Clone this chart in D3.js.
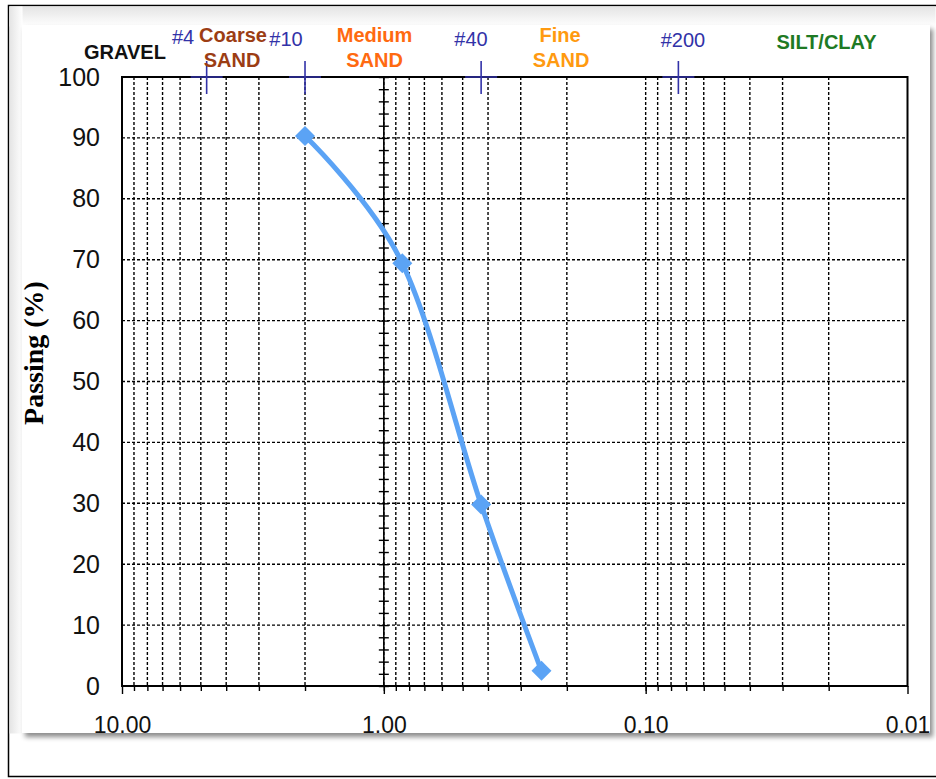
<!DOCTYPE html>
<html>
<head>
<meta charset="utf-8">
<script src="https://cdn.jsdelivr.net/npm/d3@7"></script>
<style>
  body { margin: 0; background: #fff; }
  svg { display: block; font-family: "Liberation Sans", Arial, sans-serif; }
</style>
</head>
<body>
<div id="chart"></div>
<script>
// grain size (mm) and percent passing
var sieveSizes = [2.0, 0.85, 0.425, 0.25];
var passing = [90.3, 69.4, 29.8, 2.5];

var xTickValues = [10, 1, 0.1, 0.01];
var xTickLabels = ["10.00", "1.00", "0.10", "0.01"];
var yTickValues = [0, 10, 20, 30, 40, 50, 60, 70, 80, 90, 100];

var sieveNames = ["#4", "#10", "#40", "#200"];
var sieveOpenings = [4.75, 2.0, 0.425, 0.075];

var zoneLabels = ["GRAVEL", "Coarse", "SAND", "Medium", "SAND", "Fine", "SAND", "SILT/CLAY"];

var width = 936, height = 779;
var margin = {top: 77, right: 28.5, bottom: 93, left: 122};
var plotW = width - margin.left - margin.right,
    plotH = height - margin.top - margin.bottom;

var svg = d3.select("#chart").append("svg")
    .attr("width", width)
    .attr("height", height);

var defs = svg.append("defs");
var shadow = defs.append("filter").attr("id", "shadow")
    .attr("x", "-5%").attr("y", "-5%").attr("width", "115%").attr("height", "115%");
shadow.append("feDropShadow")
    .attr("dx", 3).attr("dy", 4).attr("stdDeviation", 2.5)
    .attr("flood-color", "#000").attr("flood-opacity", 0.45);

var gTop = defs.append("linearGradient").attr("id", "gTop").attr("x1", 0).attr("y1", 0).attr("x2", 0).attr("y2", 1);
gTop.append("stop").attr("offset", "0%").attr("stop-color", "#e4e4e4");
gTop.append("stop").attr("offset", "100%").attr("stop-color", "#fff");
var gLeft = defs.append("linearGradient").attr("id", "gLeft").attr("x1", 0).attr("y1", 0).attr("x2", 1).attr("y2", 0);
gLeft.append("stop").attr("offset", "0%").attr("stop-color", "#e4e4e4");
gLeft.append("stop").attr("offset", "100%").attr("stop-color", "#fff");

defs.append("clipPath").attr("id", "panelClip")
  .append("rect").attr("x", 22).attr("y", 25).attr("width", 908).attr("height", 708);

// outer frame
svg.append("rect").attr("x", 8.5).attr("y", 5.5).attr("width", 940).attr("height", 771)
    .attr("fill", "#fff").attr("stroke", "#000").attr("stroke-width", 1.5);
svg.append("rect").attr("x", 9.5).attr("y", 6.5).attr("width", 926).attr("height", 20).attr("fill", "url(#gTop)");
svg.append("rect").attr("x", 9.5).attr("y", 6.5).attr("width", 13).attr("height", 727).attr("fill", "url(#gLeft)");

// panel
svg.append("rect").attr("x", 22).attr("y", 25).attr("width", 908).attr("height", 708)
    .attr("fill", "#fff").attr("filter", "url(#shadow)");

var root = svg.append("g").attr("clip-path", "url(#panelClip)");
var g = root.append("g").attr("transform", "translate(" + margin.left + "," + margin.top + ")");

var x = d3.scaleLog().domain([10, 0.01]).range([0, plotW]);
var y = d3.scaleLinear().domain([0, 100]).range([plotH, 0]);

// minor grid values 2..9 in each decade
var gridValues = [];
[1, 0.1, 0.01].forEach(function(dec) {
  for (var k = 9; k >= 1; k--) gridValues.push(+(dec * k).toPrecision(3));
});
gridValues = gridValues.filter(function(v) { return v < 10 && v > 0.01; });

// vertical dashed grid
g.append("g").selectAll("line")
    .data(gridValues)
    .enter().append("line")
    .attr("x1", function(d) { return x(d); })
    .attr("x2", function(d) { return x(d); })
    .attr("y1", 0).attr("y2", plotH)
    .attr("stroke", "#000").attr("stroke-width", 1.4).attr("stroke-dasharray", "3,2");

// horizontal dashed grid
g.append("g").selectAll("line")
    .data(yTickValues.slice(1, -1))
    .enter().append("line")
    .attr("x1", 0).attr("x2", plotW)
    .attr("y1", function(d) { return y(d); })
    .attr("y2", function(d) { return y(d); })
    .attr("stroke", "#000").attr("stroke-width", 1.4).attr("stroke-dasharray", "3,2");

// y axis crossing at 1.00 with minor ticks
var yCross = g.append("g")
    .attr("transform", "translate(" + (x(1) + 5) + ",0)")
    .call(d3.axisLeft(y).tickValues(d3.range(0, 101, 2)).tickSize(10).tickFormat(""));
yCross.select(".domain").remove();
yCross.selectAll(".tick line").attr("stroke-width", 1.4);
g.append("line")
    .attr("x1", x(1)).attr("x2", x(1)).attr("y1", 0).attr("y2", plotH)
    .attr("stroke", "#000").attr("stroke-width", 1.6);

// y labels
var yAxis = g.append("g")
    .call(d3.axisLeft(y).tickValues(yTickValues).tickSize(0).tickPadding(22));
yAxis.select(".domain").remove();
yAxis.selectAll("text")
    .attr("font-size", 25).attr("font-family", "Liberation Sans, Arial, sans-serif").attr("fill", "#111");

// x axis: minor ticks
var xMinor = g.append("g")
    .attr("transform", "translate(0," + plotH + ")")
    .call(d3.axisBottom(x).tickValues(gridValues).tickSize(5).tickFormat(""));
xMinor.select(".domain").remove();
xMinor.selectAll(".tick line").attr("stroke-width", 1.4);

// x axis: decades with labels
var xAxis = g.append("g")
    .attr("transform", "translate(0," + plotH + ")")
    .call(d3.axisBottom(x).tickValues(xTickValues).tickSize(8).tickPadding(23)
      .tickFormat(function(d, i) { return xTickLabels[i]; }));
xAxis.select(".domain").remove();
xAxis.selectAll(".tick line").attr("stroke-width", 1.4);
xAxis.selectAll("text")
    .attr("font-size", 23).attr("font-family", "Liberation Sans, Arial, sans-serif").attr("fill", "#111");

// plot border
g.append("rect").attr("x", 0).attr("y", 0).attr("width", plotW).attr("height", plotH)
    .attr("fill", "none").attr("stroke", "#000").attr("stroke-width", 2);

// sieve crosses
var blue = "#3232a8";
var sieveG = g.append("g").selectAll("g")
    .data(sieveOpenings)
    .enter().append("g")
    .attr("transform", function(d) { return "translate(" + x(d) + ",0)"; });
sieveG.append("line").attr("x1", 0).attr("x2", 0).attr("y1", -16).attr("y2", 17)
    .attr("stroke", blue).attr("stroke-width", 1.6);
sieveG.append("line").attr("x1", -16).attr("x2", 16).attr("y1", 0).attr("y2", 0)
    .attr("stroke", blue).attr("stroke-width", 1.6);

// data line
var pts = sieveSizes.map(function(d, i) { return [x(d), y(passing[i])]; });
var lineColor = "#5ba3f5";
g.append("path")
    .datum(pts)
    .attr("fill", "none")
    .attr("stroke", lineColor)
    .attr("stroke-width", 5)
    .attr("stroke-linejoin", "round")
    .attr("d", d3.line().curve(d3.curveCardinal));

g.append("g").selectAll("path")
    .data(pts)
    .enter().append("path")
    .attr("transform", function(d) { return "translate(" + d[0] + "," + d[1] + ") rotate(45)"; })
    .attr("d", d3.symbol().type(d3.symbolSquare).size(200))
    .attr("fill", lineColor);

// y title
svg.append("text")
    .attr("transform", "translate(43,353) rotate(-90)")
    .attr("text-anchor", "middle")
    .attr("font-family", "Liberation Serif, Times New Roman, serif")
    .attr("font-weight", "bold")
    .attr("font-size", 28)
    .text("Passing (%)");

// sieve names
var sieveLabelPos = [[183, 37], [286, 39], [471, 39], [683, 40]];
svg.append("g").selectAll("text")
    .data(sieveNames)
    .enter().append("text")
    .attr("x", function(d, i) { return sieveLabelPos[i][0]; })
    .attr("y", function(d, i) { return sieveLabelPos[i][1]; })
    .attr("text-anchor", "middle")
    .attr("dominant-baseline", "central")
    .attr("font-size", 20)
    .attr("fill", blue)
    .text(function(d) { return d; });

// zone labels
var zonePos = [[125, 52], [233, 35], [232, 59.5], [374.5, 35], [374.5, 59.5], [560, 35], [561, 59.5], [826.5, 42]];
var zoneColors = ["#111", "#9c3d14", "#9c3d14", "#ff6a10", "#ff6a10", "#ff9a10", "#ff9a10", "#1e7a24"];
svg.append("g").selectAll("text")
    .data(zoneLabels)
    .enter().append("text")
    .attr("x", function(d, i) { return zonePos[i][0]; })
    .attr("y", function(d, i) { return zonePos[i][1]; })
    .attr("text-anchor", "middle")
    .attr("dominant-baseline", "central")
    .attr("font-size", 20)
    .attr("font-weight", "bold")
    .attr("fill", function(d, i) { return zoneColors[i]; })
    .text(function(d) { return d; });
</script>
</body>
</html>
